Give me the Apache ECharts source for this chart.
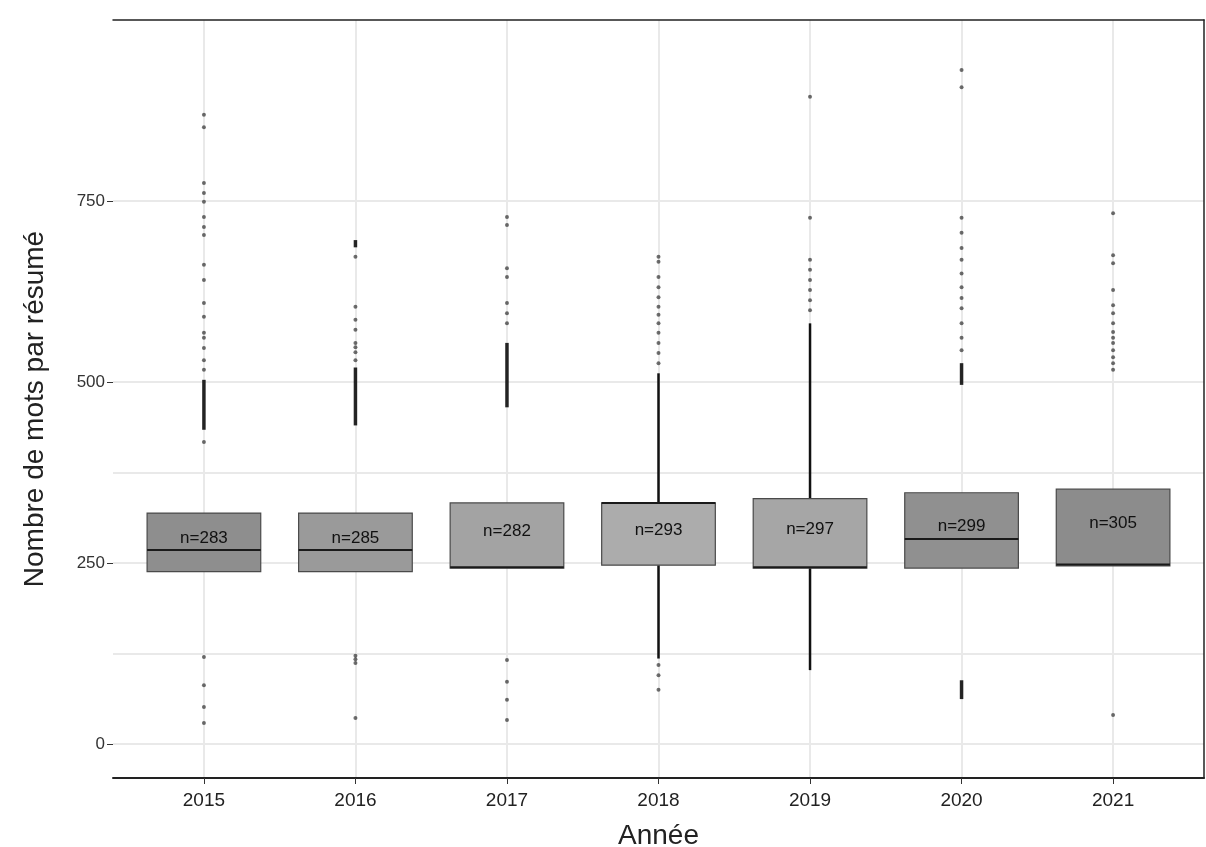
<!DOCTYPE html>
<html>
<head>
<meta charset="utf-8">
<script src="https://cdn.jsdelivr.net/npm/echarts@6/dist/echarts.min.js"></script>
<style>
  html, body { margin: 0; padding: 0; background: #fff; }
  #chart { width: 1206px; height: 847px; }
</style>
</head>
<body>
<div id="chart"></div>
<script>
// -- données --
const years = ['2015', '2016', '2017', '2018', '2019', '2020', '2021']
const counts = [283, 285, 282, 293, 297, 299, 305]
const q1 = [238, 238, 243, 247, 243, 243, 246]
const medians = [268, 268, 244, 333, 244, 283, 248]
const q3 = [319, 319, 333, 333, 339, 347, 352]
const whiskerLow = [238, 238, 243, 118, 102, 243, 246]
const whiskerHigh = [319, 319, 333, 512, 581, 347, 352]

// points isolés [indice année, valeur]
const outliers = [
  [0, 869], [0, 852], [0, 775], [0, 761], [0, 749], [0, 728], [0, 714], [0, 703], [0, 662], [0, 641],
  [0, 609], [0, 590], [0, 568], [0, 561], [0, 547], [0, 530], [0, 517], [0, 417],
  [0, 120], [0, 81], [0, 51], [0, 29],
  [1, 673], [1, 604], [1, 586], [1, 572], [1, 554], [1, 548], [1, 541], [1, 530],
  [1, 122], [1, 117], [1, 112], [1, 36],
  [2, 728], [2, 717], [2, 657], [2, 645], [2, 609], [2, 595], [2, 581],
  [2, 116], [2, 86], [2, 61], [2, 33],
  [3, 673], [3, 666], [3, 645], [3, 631], [3, 617], [3, 604], [3, 593], [3, 581], [3, 568], [3, 554],
  [3, 540], [3, 526], [3, 109], [3, 95], [3, 75],
  [4, 894], [4, 727], [4, 669], [4, 655], [4, 641], [4, 627], [4, 613], [4, 599],
  [5, 931], [5, 907], [5, 727], [5, 706], [5, 685], [5, 669], [5, 650], [5, 631], [5, 616], [5, 602],
  [5, 581], [5, 561], [5, 544],
  [6, 733], [6, 675], [6, 664], [6, 627], [6, 606], [6, 595], [6, 581], [6, 569], [6, 561], [6, 554],
  [6, 544], [6, 534], [6, 526], [6, 517], [6, 40]
]
// amas de points si serrés qu'ils forment un trait [indice année, de, à]
const outlierRuns = [
  [0, 434, 503], [1, 686, 696], [1, 440, 520], [2, 465, 554], [5, 496, 526], [5, 62, 88]
]

const yTicks = [0, 250, 500, 750]
const yGrid = [0, 125, 250, 375, 500, 750]
const boxFills = ['#8e8e8e', '#9a9a9a', '#a3a3a3', '#acacac', '#a6a6a6', '#909090', '#8c8c8c']

const FONT = '"Liberation Sans", Arial, sans-serif'
const yearIdx = years.map((_, i) => i)

const chart = echarts.init(document.getElementById('chart'), null, { renderer: 'canvas' })

function renderBox(params, api) {
  const i = api.value(0)
  const pLow = api.coord([i, api.value(1)])
  const pQ1 = api.coord([i, api.value(2)])
  const pMed = api.coord([i, api.value(3)])
  const pQ3 = api.coord([i, api.value(4)])
  const pHigh = api.coord([i, api.value(5)])
  const half = api.size([0.75, 0])[0] / 2
  const x = pQ1[0]
  const children = []
  if (pHigh[1] < pQ3[1]) {
    children.push({ type: 'line', shape: { x1: x, y1: pQ3[1], x2: x, y2: pHigh[1] },
      style: { stroke: '#111', lineWidth: 2.5 } })
  }
  if (pLow[1] > pQ1[1]) {
    children.push({ type: 'line', shape: { x1: x, y1: pQ1[1], x2: x, y2: pLow[1] },
      style: { stroke: '#111', lineWidth: 2.5 } })
  }
  children.push({
    type: 'rect',
    shape: { x: x - half, y: pQ3[1], width: half * 2, height: pQ1[1] - pQ3[1] },
    style: { fill: boxFills[i], stroke: '#4a4a4a', lineWidth: 1.2 }
  })
  children.push({
    type: 'line',
    shape: { x1: x - half, y1: pMed[1], x2: x + half, y2: pMed[1] },
    style: { stroke: '#1a1a1a', lineWidth: 2 }
  })
  return { type: 'group', children }
}

function renderLabel(params, api) {
  const i = api.value(0)
  const p = api.coord([i, (api.value(1) + api.value(2)) / 2])
  return {
    type: 'text',
    x: p[0], y: p[1] - 4,
    style: { text: 'n=' + api.value(3), fill: '#111', font: '17px ' + FONT, align: 'center', verticalAlign: 'middle' }
  }
}

function renderRun(params, api) {
  const a = api.coord([api.value(0), api.value(1)])
  const b = api.coord([api.value(0), api.value(2)])
  return { type: 'line', shape: { x1: a[0], y1: a[1], x2: b[0], y2: b[1] },
    style: { stroke: 'rgba(0,0,0,0.85)', lineWidth: 3.5 } }
}

chart.setOption({
  animation: false,
  backgroundColor: '#fff',
  grid: { left: 113, right: 2, top: 20, bottom: 69, outerBoundsMode: 'none', containLabel: false },
  xAxis: [{
    type: 'value', min: -0.6, max: 6.6, position: 'bottom',
    axisLine: { show: true, onZero: false, lineStyle: { color: '#222', width: 2 } },
    axisTick: { show: true, customValues: yearIdx, length: 6, lineStyle: { color: '#333' } },
    axisLabel: { customValues: yearIdx, formatter: v => years[Math.round(v)], fontSize: 19, color: '#222', margin: 13, fontFamily: FONT },
    splitLine: { show: false },
    name: 'Année', nameLocation: 'middle', nameGap: 44,
    nameTextStyle: { fontSize: 28, color: '#222', fontFamily: FONT }
  }, {
    type: 'value', min: -0.6, max: 6.6, position: 'top',
    axisLine: { show: true, onZero: false, lineStyle: { color: '#222', width: 1.5 } },
    axisTick: { show: false }, axisLabel: { show: false }, splitLine: { show: false }
  }],
  yAxis: [{
    type: 'value', min: -47, max: 1000, position: 'left',
    axisLine: { show: false, onZero: false },
    axisTick: { show: true, customValues: yTicks, length: 6, lineStyle: { color: '#333' } },
    axisLabel: { customValues: yTicks, fontSize: 17, color: '#333', margin: 8, fontFamily: FONT },
    splitLine: { show: false },
    name: 'Nombre de mots par résumé', nameLocation: 'middle', nameGap: 64,
    nameTextStyle: { fontSize: 28, color: '#222', fontFamily: FONT, padding: [0, 20, 0, 0] }
  }, {
    type: 'value', min: -47, max: 1000, position: 'right',
    axisLine: { show: true, onZero: false, lineStyle: { color: '#222', width: 1.5 } },
    axisTick: { show: false }, axisLabel: { show: false }, splitLine: { show: false }
  }],
  series: [
    {
      // quadrillage
      type: 'line', data: [], z: 0, silent: true,
      markLine: {
        z: 0, silent: true, symbol: 'none', label: { show: false }, animation: false,
        lineStyle: { color: '#e9e9e9', width: 2, type: 'solid' },
        data: yGrid.map(v => ({ yAxis: v })).concat(yearIdx.map(i => ({ xAxis: i })))
      }
    },
    {
      type: 'custom', z: 2, renderItem: renderBox,
      data: years.map((_, i) => [i, whiskerLow[i], q1[i], medians[i], q3[i], whiskerHigh[i]])
    },
    {
      type: 'custom', z: 3, renderItem: renderRun,
      data: outlierRuns
    },
    {
      type: 'scatter', z: 3, symbolSize: 4,
      itemStyle: { color: 'rgba(0,0,0,0.7)' },
      data: outliers
    },
    {
      type: 'custom', z: 4, renderItem: renderLabel,
      data: years.map((_, i) => [i, q1[i], q3[i], counts[i]])
    }
  ]
})
</script>
</body>
</html>
